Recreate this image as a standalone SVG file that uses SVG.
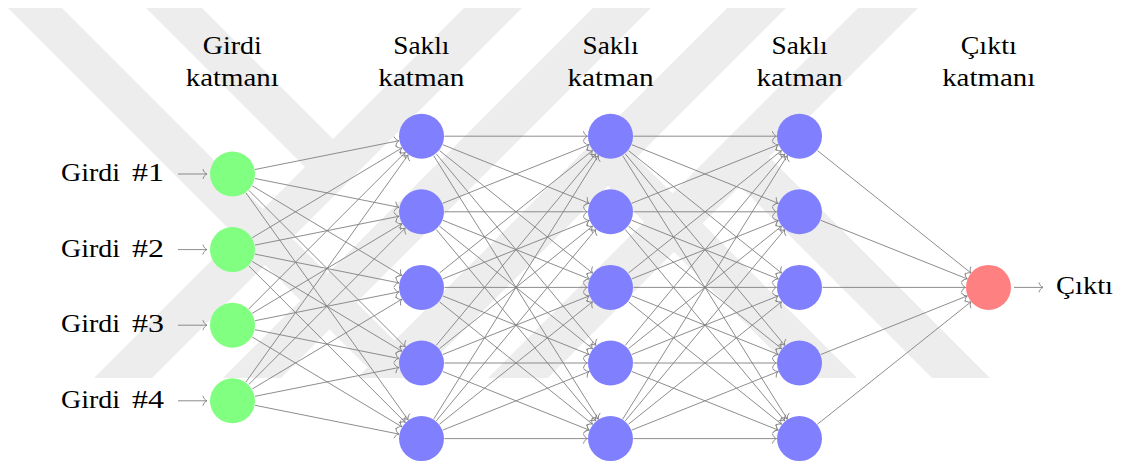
<svg xmlns="http://www.w3.org/2000/svg" width="1123" height="465" viewBox="0 0 1123 465">
  <style>
    .wm { fill: #ededed; }
    .edge { stroke: #808080; stroke-width: 0.9; fill: none; marker-end: url(#tip); }
    .in { fill: #80ff80; }
    .hid { fill: #8080ff; }
    .out { fill: #ff8080; }
    .lbl { font-family: 'Liberation Serif', 'Times New Roman', 'DejaVu Serif', serif; font-size: 26px; fill: #000000; }
    .c { text-anchor: middle; }
  </style>
  <defs>
    <marker id="tip" markerUnits="userSpaceOnUse" viewBox="-6 -6 8 12" refX="0" refY="0" markerWidth="8" markerHeight="12" orient="auto" overflow="visible">
      <path d="M-4,-4.6 C-3.3,-2.1 -1.6,-0.6 0,0 C-1.6,0.6 -3.3,2.1 -4,4.6" fill="none" stroke="#808080" stroke-width="0.9" stroke-linecap="round"/>
    </marker>
  </defs>

  <rect width="1123" height="465" fill="#ffffff"/>

  <!-- background emblem made of diagonal stripes -->
  <g id="watermark">
    <polygon class="wm" points="8,8 62,8 432,378 378,378"/>
    <polygon class="wm" points="146,8 202,8 347.5,153.5 319.5,181.5"/>
    <polygon class="wm" points="464,8 522,8 152,378 94,378"/>
    <polygon class="wm" points="593,8 651,8 281,378 223,378"/>
    <polygon class="wm" points="727,8 786,8 416,378 357,378"/>
    <polygon class="wm" points="858,8 918,8 548,378 488,378"/>
    <polygon class="wm" points="593,171 621.75,142.75 857,378 800,378"/>
    <polygon class="wm" points="725,171 754,142 990,378 932,378"/>
  </g>

  <g id="connectors">
    <!-- inputs -->
    <line class="edge" x1="178" y1="174" x2="207" y2="174"/>
    <line class="edge" x1="178" y1="249.6" x2="207" y2="249.6"/>
    <line class="edge" x1="178" y1="325.2" x2="207" y2="325.2"/>
    <line class="edge" x1="178" y1="400.8" x2="207" y2="400.8"/>
    <!-- input layer to hidden layer 1 -->
    <line class="edge" x1="255.05" y1="169.49" x2="398.95" y2="140.71"/>
    <line class="edge" x1="255.05" y1="178.51" x2="398.95" y2="207.29"/>
    <line class="edge" x1="252.22" y1="185.83" x2="401.78" y2="275.57"/>
    <line class="edge" x1="248.76" y1="190.26" x2="405.24" y2="346.74"/>
    <line class="edge" x1="245.87" y1="192.72" x2="408.13" y2="419.88"/>
    <line class="edge" x1="252.22" y1="237.77" x2="401.78" y2="148.03"/>
    <line class="edge" x1="255.05" y1="245.09" x2="398.95" y2="216.31"/>
    <line class="edge" x1="255.05" y1="254.11" x2="398.95" y2="282.89"/>
    <line class="edge" x1="252.22" y1="261.43" x2="401.78" y2="351.17"/>
    <line class="edge" x1="248.76" y1="265.86" x2="405.24" y2="422.34"/>
    <line class="edge" x1="248.76" y1="308.94" x2="405.24" y2="152.46"/>
    <line class="edge" x1="252.22" y1="313.37" x2="401.78" y2="223.63"/>
    <line class="edge" x1="255.05" y1="320.69" x2="398.95" y2="291.91"/>
    <line class="edge" x1="255.05" y1="329.71" x2="398.95" y2="358.49"/>
    <line class="edge" x1="252.22" y1="337.03" x2="401.78" y2="426.77"/>
    <line class="edge" x1="245.87" y1="382.08" x2="408.13" y2="154.92"/>
    <line class="edge" x1="248.76" y1="384.54" x2="405.24" y2="228.06"/>
    <line class="edge" x1="252.22" y1="388.97" x2="401.78" y2="299.23"/>
    <line class="edge" x1="255.05" y1="396.29" x2="398.95" y2="367.49"/>
    <line class="edge" x1="255.05" y1="405.31" x2="398.95" y2="434.09"/>
    <!-- hidden layer 1 to hidden layer 2 -->
    <line class="edge" x1="444.5" y1="136.2" x2="587.5" y2="136.2"/>
    <line class="edge" x1="442.86" y1="144.74" x2="589.14" y2="203.26"/>
    <line class="edge" x1="439.46" y1="150.57" x2="592.54" y2="273.03"/>
    <line class="edge" x1="436.22" y1="153.87" x2="595.78" y2="345.33"/>
    <line class="edge" x1="433.69" y1="155.7" x2="598.31" y2="419.1"/>
    <line class="edge" x1="442.86" y1="203.26" x2="589.14" y2="144.74"/>
    <line class="edge" x1="444.5" y1="211.8" x2="587.5" y2="211.8"/>
    <line class="edge" x1="442.86" y1="220.34" x2="589.14" y2="278.86"/>
    <line class="edge" x1="439.46" y1="226.17" x2="592.54" y2="348.63"/>
    <line class="edge" x1="436.22" y1="229.47" x2="595.78" y2="420.93"/>
    <line class="edge" x1="439.46" y1="273.03" x2="592.54" y2="150.57"/>
    <line class="edge" x1="442.86" y1="278.86" x2="589.14" y2="220.34"/>
    <line class="edge" x1="444.5" y1="287.4" x2="587.5" y2="287.4"/>
    <line class="edge" x1="442.86" y1="295.94" x2="589.14" y2="354.46"/>
    <line class="edge" x1="439.46" y1="301.77" x2="592.54" y2="424.23"/>
    <line class="edge" x1="436.22" y1="345.33" x2="595.78" y2="153.87"/>
    <line class="edge" x1="439.46" y1="348.63" x2="592.54" y2="226.17"/>
    <line class="edge" x1="442.86" y1="354.46" x2="589.14" y2="295.94"/>
    <line class="edge" x1="444.5" y1="363" x2="587.5" y2="363"/>
    <line class="edge" x1="442.86" y1="371.54" x2="589.14" y2="430.06"/>
    <line class="edge" x1="433.69" y1="419.1" x2="598.31" y2="155.7"/>
    <line class="edge" x1="436.22" y1="420.93" x2="595.78" y2="229.47"/>
    <line class="edge" x1="439.46" y1="424.23" x2="592.54" y2="301.77"/>
    <line class="edge" x1="442.86" y1="430.06" x2="589.14" y2="371.54"/>
    <line class="edge" x1="444.5" y1="438.6" x2="587.5" y2="438.6"/>
    <!-- hidden layer 2 to hidden layer 3 -->
    <line class="edge" x1="633.5" y1="136.2" x2="776.5" y2="136.2"/>
    <line class="edge" x1="631.86" y1="144.74" x2="778.14" y2="203.26"/>
    <line class="edge" x1="628.46" y1="150.57" x2="781.54" y2="273.03"/>
    <line class="edge" x1="625.22" y1="153.87" x2="784.78" y2="345.33"/>
    <line class="edge" x1="622.69" y1="155.7" x2="787.31" y2="419.1"/>
    <line class="edge" x1="631.86" y1="203.26" x2="778.14" y2="144.74"/>
    <line class="edge" x1="633.5" y1="211.8" x2="776.5" y2="211.8"/>
    <line class="edge" x1="631.86" y1="220.34" x2="778.14" y2="278.86"/>
    <line class="edge" x1="628.46" y1="226.17" x2="781.54" y2="348.63"/>
    <line class="edge" x1="625.22" y1="229.47" x2="784.78" y2="420.93"/>
    <line class="edge" x1="628.46" y1="273.03" x2="781.54" y2="150.57"/>
    <line class="edge" x1="631.86" y1="278.86" x2="778.14" y2="220.34"/>
    <line class="edge" x1="633.5" y1="287.4" x2="776.5" y2="287.4"/>
    <line class="edge" x1="631.86" y1="295.94" x2="778.14" y2="354.46"/>
    <line class="edge" x1="628.46" y1="301.77" x2="781.54" y2="424.23"/>
    <line class="edge" x1="625.22" y1="345.33" x2="784.78" y2="153.87"/>
    <line class="edge" x1="628.46" y1="348.63" x2="781.54" y2="226.17"/>
    <line class="edge" x1="631.86" y1="354.46" x2="778.14" y2="295.94"/>
    <line class="edge" x1="633.5" y1="363" x2="776.5" y2="363"/>
    <line class="edge" x1="631.86" y1="371.54" x2="778.14" y2="430.06"/>
    <line class="edge" x1="622.69" y1="419.1" x2="787.31" y2="155.7"/>
    <line class="edge" x1="625.22" y1="420.93" x2="784.78" y2="229.47"/>
    <line class="edge" x1="628.46" y1="424.23" x2="781.54" y2="301.77"/>
    <line class="edge" x1="631.86" y1="430.06" x2="778.14" y2="371.54"/>
    <line class="edge" x1="633.5" y1="438.6" x2="776.5" y2="438.6"/>
    <!-- hidden layer 3 to output -->
    <line class="edge" x1="817.46" y1="150.57" x2="971.04" y2="273.03"/>
    <line class="edge" x1="820.86" y1="220.34" x2="967.14" y2="278.86"/>
    <line class="edge" x1="822.5" y1="287.4" x2="965.5" y2="287.4"/>
    <line class="edge" x1="820.86" y1="354.46" x2="967.14" y2="295.94"/>
    <line class="edge" x1="817.46" y1="424.23" x2="971.04" y2="301.77"/>
    <!-- output -->
    <line class="edge" x1="1014" y1="287.4" x2="1043" y2="287.4"/>
  </g>

  <g id="layer-titles" class="lbl" font-family="'Liberation Serif', serif">
    <text class="c" x="232.3" y="54" textLength="59" lengthAdjust="spacingAndGlyphs">Girdi</text>
    <text class="c" x="232.3" y="86" textLength="93" lengthAdjust="spacingAndGlyphs">katmanı</text>
    <text class="c" x="421.3" y="54" textLength="56" lengthAdjust="spacingAndGlyphs">Saklı</text>
    <text class="c" x="421.3" y="86" textLength="86" lengthAdjust="spacingAndGlyphs">katman</text>
    <text class="c" x="610.5" y="54" textLength="56" lengthAdjust="spacingAndGlyphs">Saklı</text>
    <text class="c" x="610.5" y="86" textLength="86" lengthAdjust="spacingAndGlyphs">katman</text>
    <text class="c" x="799.5" y="54" textLength="56" lengthAdjust="spacingAndGlyphs">Saklı</text>
    <text class="c" x="799.5" y="86" textLength="86" lengthAdjust="spacingAndGlyphs">katman</text>
    <text class="c" x="988.7" y="54" textLength="56" lengthAdjust="spacingAndGlyphs">Çıktı</text>
    <text class="c" x="988.7" y="86" textLength="93" lengthAdjust="spacingAndGlyphs">katmanı</text>
  </g>

  <g id="input-1" class="lbl" font-family="'Liberation Serif', serif">
    <circle class="in" cx="232.5" cy="174" r="22.5"/>
    <text x="61" y="181" textLength="59" lengthAdjust="spacingAndGlyphs">Girdi</text>
    <text x="132" y="181" textLength="32" lengthAdjust="spacingAndGlyphs">#1</text>
  </g>
  <g id="input-2" class="lbl" font-family="'Liberation Serif', serif">
    <circle class="in" cx="232.5" cy="249.6" r="22.5"/>
    <text x="61" y="256.6" textLength="59" lengthAdjust="spacingAndGlyphs">Girdi</text>
    <text x="132" y="256.6" textLength="32" lengthAdjust="spacingAndGlyphs">#2</text>
  </g>
  <g id="input-3" class="lbl" font-family="'Liberation Serif', serif">
    <circle class="in" cx="232.5" cy="325.2" r="22.5"/>
    <text x="61" y="332.2" textLength="59" lengthAdjust="spacingAndGlyphs">Girdi</text>
    <text x="132" y="332.2" textLength="32" lengthAdjust="spacingAndGlyphs">#3</text>
  </g>
  <g id="input-4" class="lbl" font-family="'Liberation Serif', serif">
    <circle class="in" cx="232.5" cy="400.8" r="22.5"/>
    <text x="61" y="407.8" textLength="59" lengthAdjust="spacingAndGlyphs">Girdi</text>
    <text x="132" y="407.8" textLength="32" lengthAdjust="spacingAndGlyphs">#4</text>
  </g>

  <g id="hidden1-1"><circle class="hid" cx="421.5" cy="136.2" r="22.5"/></g>
  <g id="hidden1-2"><circle class="hid" cx="421.5" cy="211.8" r="22.5"/></g>
  <g id="hidden1-3"><circle class="hid" cx="421.5" cy="287.4" r="22.5"/></g>
  <g id="hidden1-4"><circle class="hid" cx="421.5" cy="363" r="22.5"/></g>
  <g id="hidden1-5"><circle class="hid" cx="421.5" cy="438.6" r="22.5"/></g>

  <g id="hidden2-1"><circle class="hid" cx="610.5" cy="136.2" r="22.5"/></g>
  <g id="hidden2-2"><circle class="hid" cx="610.5" cy="211.8" r="22.5"/></g>
  <g id="hidden2-3"><circle class="hid" cx="610.5" cy="287.4" r="22.5"/></g>
  <g id="hidden2-4"><circle class="hid" cx="610.5" cy="363" r="22.5"/></g>
  <g id="hidden2-5"><circle class="hid" cx="610.5" cy="438.6" r="22.5"/></g>

  <g id="hidden3-1"><circle class="hid" cx="799.5" cy="136.2" r="22.5"/></g>
  <g id="hidden3-2"><circle class="hid" cx="799.5" cy="211.8" r="22.5"/></g>
  <g id="hidden3-3"><circle class="hid" cx="799.5" cy="287.4" r="22.5"/></g>
  <g id="hidden3-4"><circle class="hid" cx="799.5" cy="363" r="22.5"/></g>
  <g id="hidden3-5"><circle class="hid" cx="799.5" cy="438.6" r="22.5"/></g>

  <g id="output" class="lbl" font-family="'Liberation Serif', serif">
    <circle class="out" cx="988.5" cy="287.4" r="22.5"/>
    <text x="1056" y="294.4" textLength="57" lengthAdjust="spacingAndGlyphs">Çıktı</text>
  </g>
</svg>
